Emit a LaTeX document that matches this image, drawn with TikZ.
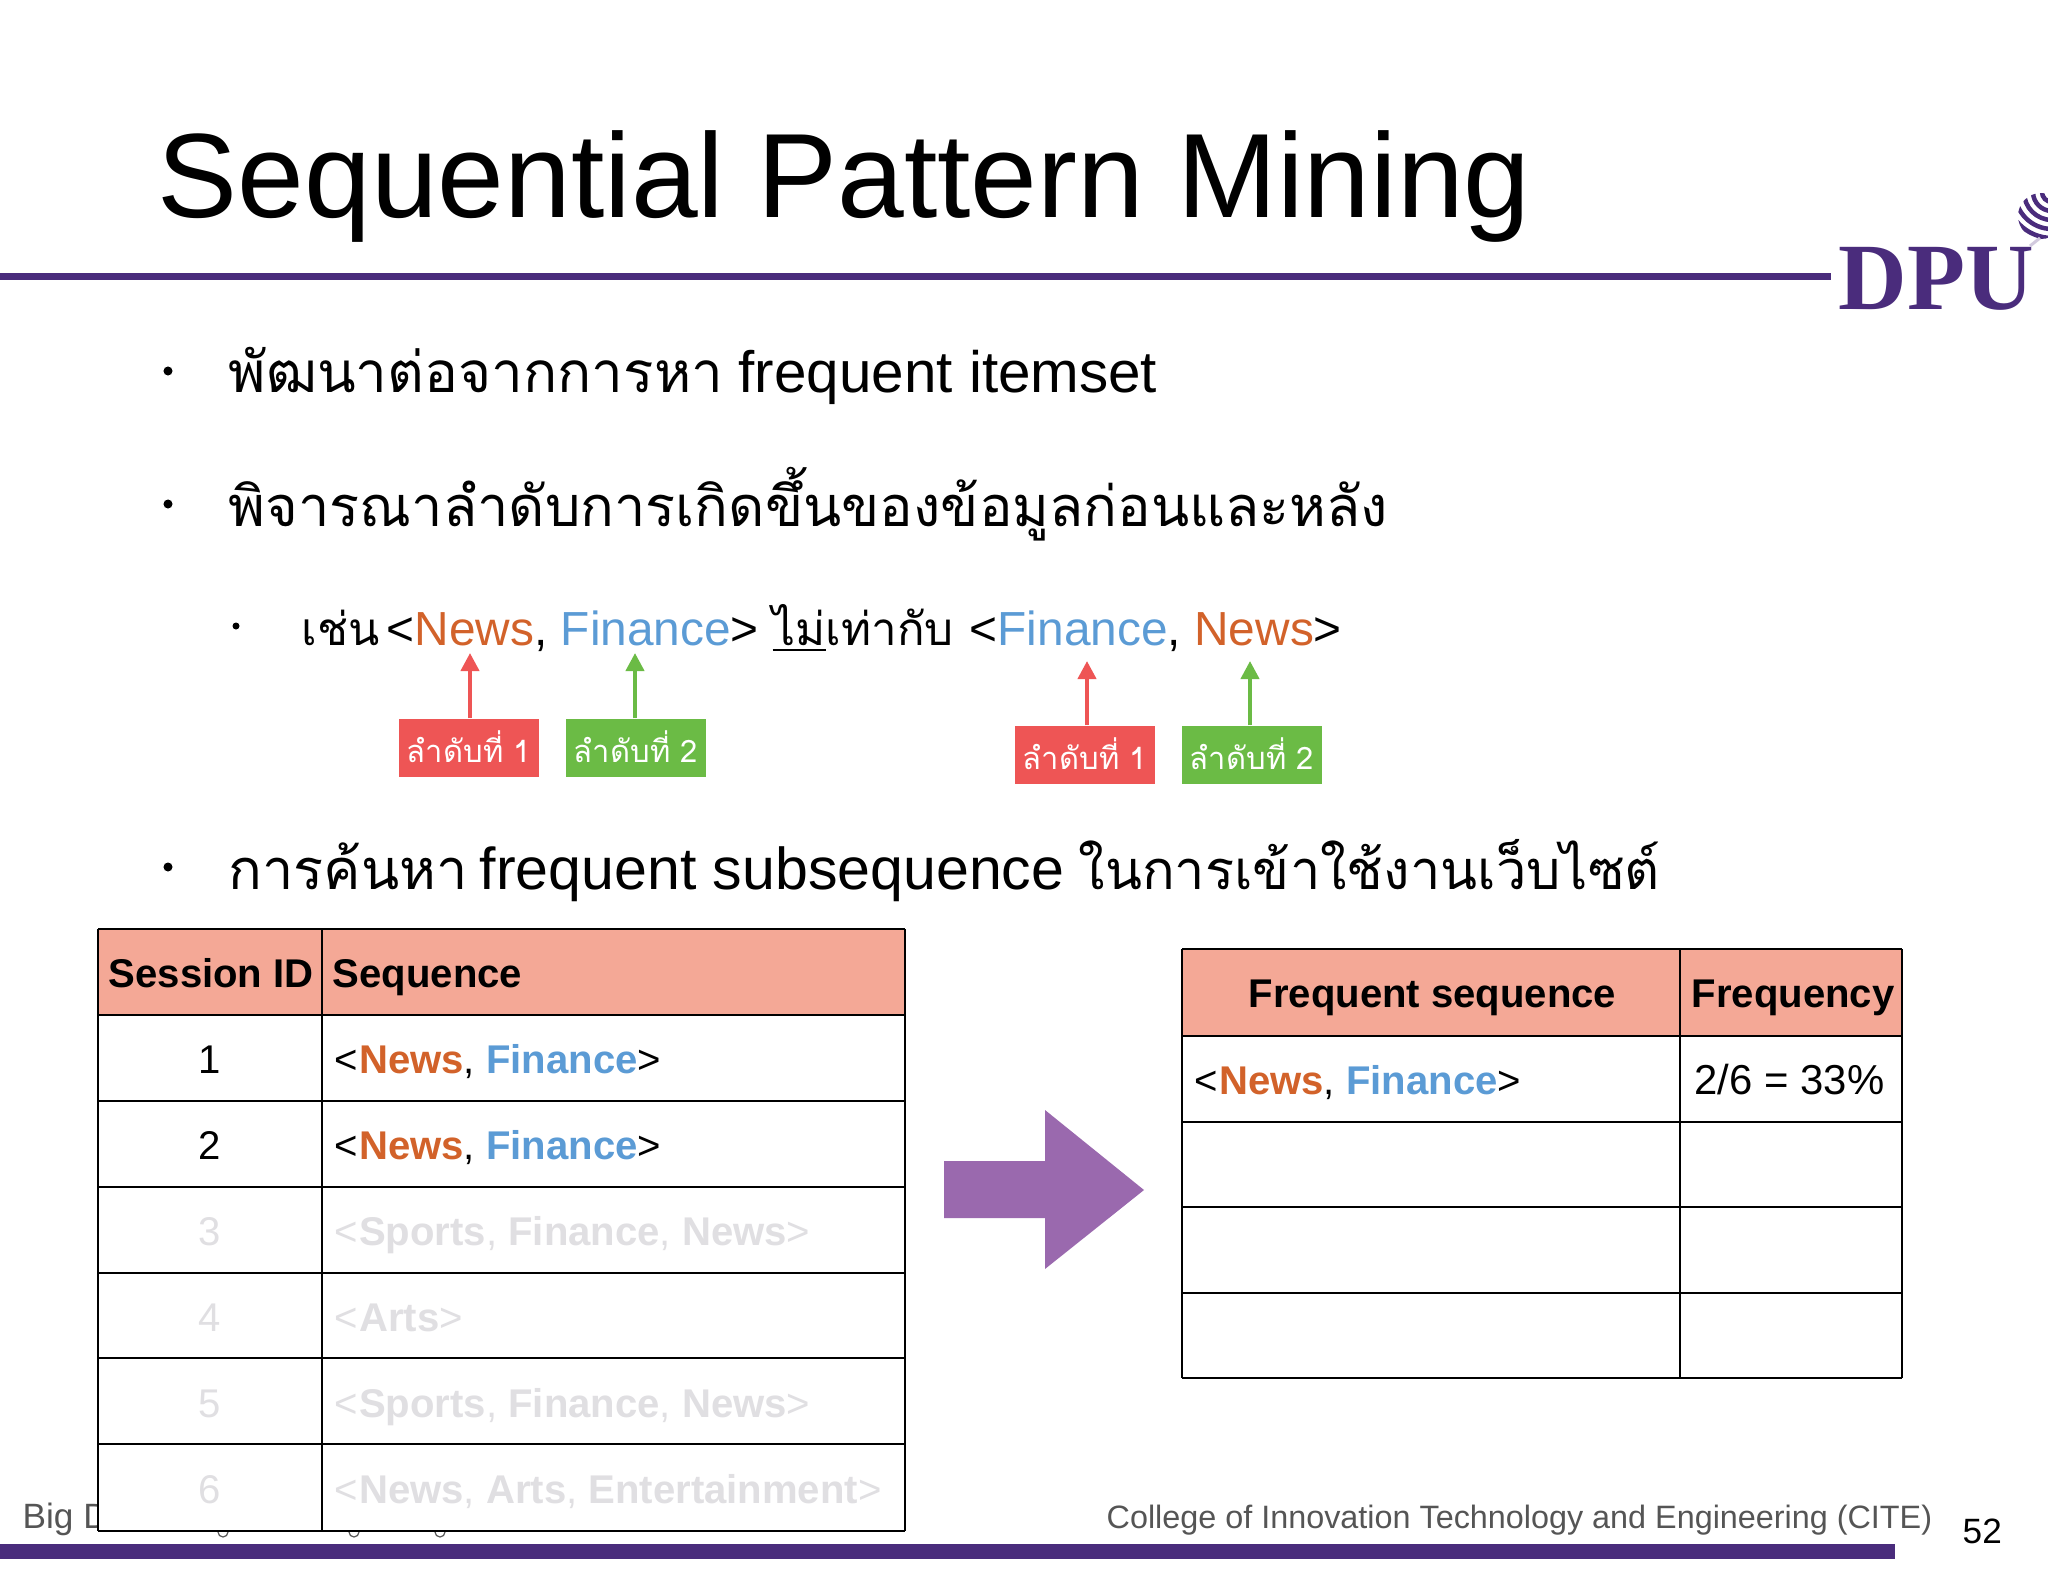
\documentclass[tikz,border=0pt]{standalone}
\usepackage{fontspec}
\setmainfont{Liberation Sans}
\newfontfamily\thaifont[Script=Thai]{Loma}
\newfontfamily\logofont{Liberation Serif}
\usetikzlibrary{arrows.meta}
\definecolor{dpupurple}{HTML}{4A2C7C}
\definecolor{newsorange}{HTML}{D2622A}
\definecolor{financeblue}{HTML}{5B9BD5}
\definecolor{orderred}{HTML}{EE5555}
\definecolor{ordergreen}{HTML}{6BBB45}
\definecolor{headpink}{HTML}{F4A896}
\definecolor{fadegrey}{HTML}{E0DFE2}
\definecolor{arrowpurple}{HTML}{9A69AE}
\definecolor{footgrey}{HTML}{555555}
\newcommand{\newsbold}{\textcolor{newsorange}{\textbf{News}}}
\newcommand{\financebold}{\textcolor{financeblue}{\textbf{Finance}}}
\newcommand{\fadeb}[1]{\textbf{#1}}
\newcommand{\thailarge}{\thaifont\fontsize{15.9}{20}\selectfont}
\newcommand{\thaismall}{\thaifont\fontsize{13}{16}\selectfont}
\tikzset{
    linetext/.style = {anchor=base west, inner sep=0pt, font=\fontsize{16.6}{20}\selectfont},
    subtext/.style = {anchor=base west, inner sep=0pt, font=\fontsize{13.6}{16}\selectfont},
    celltext/.style = {anchor=base west, inner sep=0pt, font=\fontsize{11.4}{14}\selectfont},
    footertext/.style = {anchor=base west, inner sep=0pt, text=footgrey, font=\fontsize{9.2}{11}\selectfont},
    dot/.style = {circle, fill=black, inner sep=0pt, minimum size=0.09cm},
    firstbox/.style = {fill=orderred, text=white, inner sep=0pt, minimum width=1.40cm, minimum height=0.58cm, text height=0.435cm, text depth=0.145cm, font=\thaifont\fontsize{8.8}{11}\selectfont},
    secondbox/.style = {firstbox, fill=ordergreen},
    pointer/.style = {line width=0.04cm, -{Triangle[length=0.18cm,width=0.18cm]}},
    gridline/.style = {line width=0.025cm, draw=black}
}
\begin{document}
\begin{tikzpicture}[x=0.01cm,y=-0.01cm]
    \useasboundingbox (0,0) rectangle (2048,1582);
    % title and rules
    \node[anchor=base west, inner sep=0pt, font=\fontsize{34.1}{40}\selectfont] (title) at (157,218) {Sequential Pattern Mining};
    \fill[dpupurple] (0,273.5) rectangle (1831,280.5);
    \fill[dpupurple] (0,1544) rectangle (1895,1559);
    % logo
    \node[anchor=base west, inner sep=0pt, text=dpupurple, font=\logofont\bfseries\fontsize{27}{30}\selectfont] (logo) at (1838,310) {DPU};
    \begin{scope}
        \clip (2041,216) circle[radius=23];
        \foreach \r in {10,19,28,37,46}
            \draw[dpupurple, line width=0.045cm] (2052,192) circle[radius=\r];
    \end{scope}
    \draw[dpupurple!25, line width=0.03cm] (2040,238) -- (2030,246);
    % bullets
    \node[dot] (dotA) at (168,371) {};
    \node[linetext] (lineA) at (228,393) {\thaifont\fontsize{16.1}{20}\selectfont พัฒนาต่อจากการหา};
    \node[linetext] (lineAb) at (738,393) {frequent itemset};
    \node[dot] (dotB) at (168,504) {};
    \node[linetext] (lineB) at (228,526) {\thailarge พิจารณาลำดับการเกิดขึ้นของข้อมูลก่อนและหลัง};
    \node[dot, minimum size=0.07cm] (dotC) at (236,626) {};
    \node[subtext] (lineC) at (301,645) {\thaismall เช่น};
    \node[subtext] (pairA) at (386,645) {<\textcolor{newsorange}{News}, \textcolor{financeblue}{Finance}>};
    \node[subtext] (notEq) at (772,645) {\thaismall \underline{ไม่}เท่ากับ};
    \node[subtext] (pairB) at (969,645) {<\textcolor{financeblue}{Finance}, \textcolor{newsorange}{News}>};
    \node[dot] (dotD) at (168,867) {};
    \node[linetext] (lineD) at (228,889) {\thailarge การค้นหา};
    \node[linetext, font=\fontsize{16.8}{20}\selectfont] (lineDb) at (479,889) {frequent subsequence};
    \node[linetext] (lineDc) at (1078,889) {\thaifont\fontsize{15.4}{20}\selectfont ในการเข้าใช้งานเว็บไซต์};
    % order boxes
    \node[firstbox] (firstA) at (469,748) {ลำดับที่ 1};
    \node[secondbox] (secondA) at (636,748) {ลำดับที่ 2};
    \node[firstbox] (firstB) at (1085,755) {ลำดับที่ 1};
    \node[secondbox] (secondB) at (1252,755) {ลำดับที่ 2};
    \coordinate (tipA) at (470,653);
    \coordinate (tipB) at (635,653);
    \coordinate (tipC) at (1087,661);
    \coordinate (tipD) at (1250,661);
    \draw[pointer, draw=orderred, fill=orderred] (firstA.north -| tipA) -- (tipA);
    \draw[pointer, draw=ordergreen, fill=ordergreen] (secondA.north -| tipB) -- (tipB);
    \draw[pointer, draw=orderred, fill=orderred] (firstB.north -| tipC) -- (tipC);
    \draw[pointer, draw=ordergreen, fill=ordergreen] (secondB.north -| tipD) -- (tipD);
    % footer, the left table covers most of it
    \node[footertext, font=\fontsize{10}{12}\selectfont] (footerA) at (22,1528) {Big D};
    \foreach \x in {218,349,435}
        \draw[footgrey, line width=0.012cm] (\x,1532) arc[start angle=180, end angle=0, radius=5];
    \node[footertext] (footerB) at (1106,1528) {College of Innovation Technology and Engineering (CITE)};
    \node[footertext, text=black, font=\fontsize{10}{12}\selectfont] (pageno) at (1962,1543) {52};
    % left table
    \fill[white] (98,929) rectangle (905,1531);
    \fill[headpink] (98,929) rectangle (905,1015);
    \foreach \y in {929,1015,1101,1187,1273,1358,1444,1531}
        \draw[gridline] (98,\y) -- (905,\y);
    \foreach \x in {98,322,905}
        \draw[gridline] (\x,929) -- (\x,1531);
    \node[celltext] (headId) at (108,987) {\textbf{Session ID}};
    \node[celltext] (headSeq) at (332,987) {\textbf{Sequence}};
    \node[celltext] (idA) at (198,1073) {1};
    \node[celltext] (seqA) at (334,1073) {<\kern0.01cm\newsbold, \financebold>};
    \node[celltext] (idB) at (198,1159) {2};
    \node[celltext] (seqB) at (334,1159) {<\kern0.01cm\newsbold, \financebold>};
    \begin{scope}[every node/.append style={text=fadegrey}]
        \node[celltext] (idC) at (198,1245) {3};
        \node[celltext] (seqC) at (334,1245) {<\kern0.01cm\fadeb{Sports}, \fadeb{Finance}, \fadeb{News}>};
        \node[celltext] (idD) at (198,1331) {4};
        \node[celltext] (seqD) at (334,1331) {<\kern0.01cm\fadeb{Arts}>};
        \node[celltext] (idE) at (198,1417) {5};
        \node[celltext] (seqE) at (334,1417) {<\kern0.01cm\fadeb{Sports}, \fadeb{Finance}, \fadeb{News}>};
        \node[celltext] (idF) at (198,1503) {6};
        \node[celltext] (seqF) at (334,1503) {<\kern0.01cm\fadeb{News}, \fadeb{Arts}, \fadeb{Entertainment}>};
    \end{scope}
    % block arrow
    \fill[arrowpurple] (944,1161) -- (1045,1161) -- (1045,1110) -- (1144,1190) -- (1045,1269) -- (1045,1218) -- (944,1218) -- cycle;
    % right table
    \fill[headpink] (1182,949) rectangle (1902,1036);
    \foreach \y in {949,1036,1122,1207,1293,1378}
        \draw[gridline] (1182,\y) -- (1902,\y);
    \foreach \x in {1182,1680,1902}
        \draw[gridline] (\x,949) -- (\x,1378);
    \node[celltext] (headFreq) at (1248,1007) {\textbf{Frequent sequence}};
    \node[celltext] (headCount) at (1691,1007) {\textbf{Frequency}};
    \node[celltext] (freqA) at (1194,1094) {<\kern0.01cm\newsbold, \financebold>};
    \node[celltext, font=\fontsize{11.9}{14}\selectfont] (countA) at (1694,1094) {2/6 = 33\%};
\end{tikzpicture}
\end{document}
